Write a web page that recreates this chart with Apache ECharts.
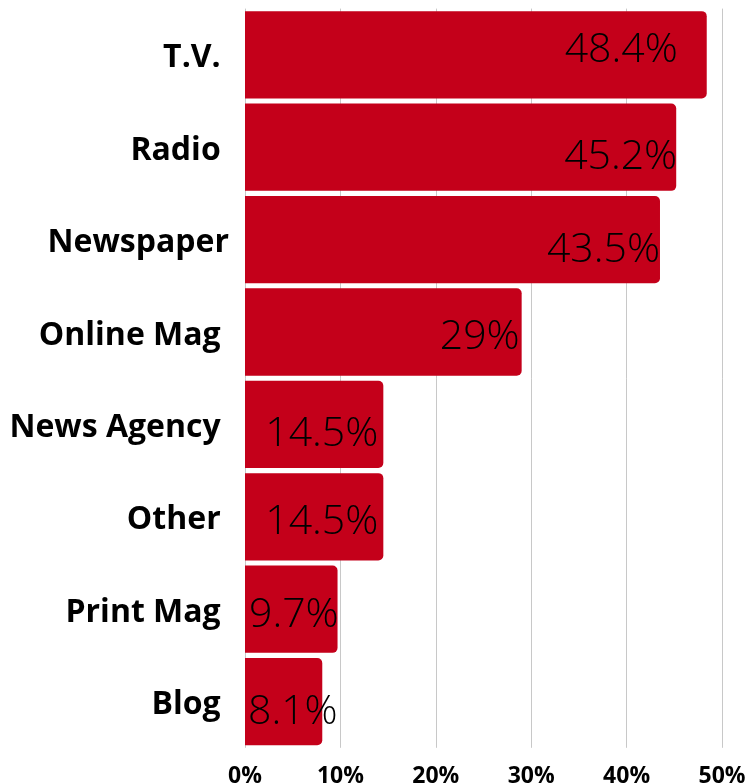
<!DOCTYPE html>
<html>
<head>
<meta charset="utf-8">
<script src="https://cdn.jsdelivr.net/npm/echarts@6/dist/echarts.min.js"></script>
<style>
  html, body { margin: 0; padding: 0; background: #ffffff; }
  #chart { width: 748px; height: 784px; }
</style>
</head>
<body>
<div id="chart"></div>
<script>
// Media channels (top to bottom) and share of respondents, in percent
const categories = ['T.V. ', 'Radio ', 'Newspaper', 'Online Mag ', 'News Agency ', 'Other ', 'Print Mag ', 'Blog '];
const shares = [48.4, 45.2, 43.5, 29, 14.5, 14.5, 9.7, 8.1];
const shareLabels = ['48.4%', '45.2%', '43.5%', '29%', '14.5%', '14.5%', '9.7%', '8.1%'];
const axisTicks = [0, 10, 20, 30, 40, 50];

// Placement of each value label inside its bar
const labelPlacement = [
  { position: 'insideRight', offset: [-29, -4] },
  { position: 'insideRight', offset: [1, 10] },
  { position: 'insideRight', offset: [0, 11] },
  { position: 'insideRight', offset: [-2, 5] },
  { position: 'insideRight', offset: [-5, 10] },
  { position: 'insideRight', offset: [-5, 6] },
  { position: 'insideLeft', offset: [4, 6.5] },
  { position: 'insideLeft', offset: [3, 10.5] }
];

const BAR_RED = '#C4001A';

const chart = echarts.init(document.getElementById('chart'), null, { renderer: 'canvas' });

chart.setOption({
  animation: false,
  backgroundColor: '#ffffff',
  grid: {
    left: 245, right: 26, top: 8.6, bottom: 36.2,
    containLabel: false,
    outerBoundsMode: 'none'
  },
  xAxis: {
    type: 'value',
    min: axisTicks[0],
    max: axisTicks[axisTicks.length - 1],
    interval: axisTicks[1] - axisTicks[0],
    axisLine: { show: false },
    axisTick: { show: false },
    splitLine: { show: true, lineStyle: { color: '#c8c8c8', width: 1 } },
    axisLabel: {
      formatter: '{value}%',
      color: '#000000',
      fontFamily: 'Open Sans',
      fontWeight: 'bold',
      fontSize: 23,
      margin: 17
    }
  },
  yAxis: {
    type: 'category',
    inverse: true,
    data: categories,
    axisLine: { show: false },
    axisTick: { show: false },
    splitLine: { show: false },
    axisLabel: {
      color: '#000000',
      fontFamily: 'Open Sans',
      fontWeight: 'bold',
      fontSize: 32,
      margin: 16,
      verticalAlign: 'top',
      lineHeight: 7
    }
  },
  series: [{
    type: 'bar',
    barCategoryGap: '5.5%',
    itemStyle: { color: BAR_RED, borderRadius: [0, 5, 5, 0] },
    label: {
      show: true,
      distance: 0,
      color: '#000000',
      fontFamily: 'Open Sans',
      fontWeight: 300,
      fontSize: 41
    },
    data: shares.map((v, i) => ({
      value: v,
      label: {
        position: labelPlacement[i].position,
        offset: labelPlacement[i].offset,
        formatter: shareLabels[i]
      }
    }))
  }]
});
</script>
</body>
</html>
